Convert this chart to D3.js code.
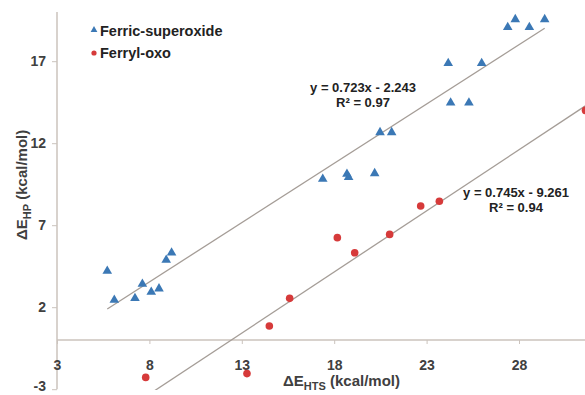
<!DOCTYPE html>
<html>
<head>
<meta charset="utf-8">
<script src="https://cdn.jsdelivr.net/npm/d3@7"></script>
<style>
  body { margin: 0; background: #fff; }
  svg { display: block; font-family: "Liberation Sans", Arial, sans-serif; }
</style>
</head>
<body>
<div id="chart"></div>
<script>
// Ferric-superoxide (x = dE HTS, y = dE HP)
var superX = [5.72, 6.10, 7.22, 7.62, 8.10, 8.52, 8.91, 9.20, 17.38, 18.69, 18.78, 20.19,
              20.48, 21.11, 24.30, 25.29, 24.17, 25.98, 27.39, 27.80, 28.56, 29.39];
var superY = [4.21, 2.44, 2.54, 3.41, 2.93, 3.13, 4.88, 5.32, 9.82, 10.12, 9.92, 10.16,
              12.66, 12.66, 14.47, 14.47, 16.87, 16.87, 19.07, 19.55, 19.07, 19.55];
// Ferryl-oxo
var oxoX = [7.80, 13.28, 14.49, 15.59, 18.17, 19.11, 21.00, 22.68, 23.69, 31.6];
var oxoY = [-2.28, -2.05, 0.85, 2.54, 6.24, 5.32, 6.44, 8.17, 8.46, 14.0];

var fits = [
  { slope: 0.723, icept: -2.243, eq: "y = 0.723x - 2.243", r2: "0.97", lx: 363, ly: 92 },
  { slope: 0.745, icept: -9.261, eq: "y = 0.745x - 9.261", r2: "0.94", lx: 516, ly: 197 }
];
var xTicks = [3, 8, 13, 18, 23, 28];
var yTicks = [-3, 2, 7, 12, 17];

var width = 585, height = 395;
var svg = d3.select("#chart").append("svg")
  .attr("width", width).attr("height", height);

var x = d3.scaleLinear().domain([3, 33]).range([57, 611.4]);
var y = d3.scaleLinear().domain([-3, 20]).range([389.2, 12]);

var axisCol = "#cbc3bd";
var textCol = "#404040";
var fmt = function (d) { return String(d); };

svg.append("defs").append("clipPath").attr("id", "plot")
  .append("rect").attr("x", 57).attr("y", 12).attr("width", 600).attr("height", 378);

// y axis
var yAxis = svg.append("g")
  .attr("transform", "translate(" + x(3) + ",0)")
  .call(d3.axisLeft(y).tickValues(yTicks).tickSize(5).tickPadding(6).tickFormat(fmt));
yAxis.select(".domain").attr("stroke", axisCol).attr("stroke-width", 1.5).attr("d", "M0," + y(-3) + "V" + y(20));
yAxis.selectAll(".tick line").attr("stroke", axisCol);
yAxis.selectAll(".tick text").attr("fill", textCol).style("font-size", "14px").style("font-weight", "bold")
  .attr("dy", function (d) { return d === -3 ? "0.1em" : "0.32em"; });

// x axis at y = 0
var xAxis = svg.append("g")
  .attr("transform", "translate(0," + y(0) + ")")
  .call(d3.axisBottom(x).tickValues(xTicks).tickSize(4).tickPadding(16).tickFormat(fmt));
xAxis.select(".domain").attr("stroke", axisCol).attr("stroke-width", 1.3).attr("d", "M" + x(3) + ",0H" + width);
xAxis.selectAll(".tick line").attr("stroke", axisCol);
xAxis.selectAll(".tick text").attr("fill", textCol).style("font-size", "14px").style("font-weight", "bold");

// trend lines
var plot = svg.append("g").attr("clip-path", "url(#plot)");
var ranges = [d3.extent(superX), d3.extent(oxoX)];
fits.forEach(function (f, i) {
  var x0 = ranges[i][0], x1 = ranges[i][1];
  plot.append("line")
    .attr("x1", x(x0)).attr("y1", y(f.slope * x0 + f.icept))
    .attr("x2", x(x1)).attr("y2", y(f.slope * x1 + f.icept))
    .attr("stroke", "#a59d97").attr("stroke-width", 1.3);
});

// points
var tri = d3.symbol().type(d3.symbolTriangle).size(40);
plot.append("g").selectAll("path")
  .data(superX)
  .enter().append("path")
  .attr("d", tri)
  .attr("transform", function (d, i) { return "translate(" + x(d) + "," + y(superY[i]) + ")"; })
  .attr("fill", "#3b78b5");

plot.append("g").selectAll("circle")
  .data(oxoX)
  .enter().append("circle")
  .attr("cx", function (d) { return x(d); })
  .attr("cy", function (d, i) { return y(oxoY[i]); })
  .attr("r", 3.8)
  .attr("fill", "#d63a3a");

// equation labels
fits.forEach(function (f) {
  svg.append("text").attr("x", f.lx).attr("y", f.ly)
    .attr("text-anchor", "middle").attr("fill", "#222")
    .style("font-size", "13px").style("font-weight", "bold").text(f.eq);
  svg.append("text").attr("x", f.lx).attr("y", f.ly + 15)
    .attr("text-anchor", "middle").attr("fill", "#222")
    .style("font-size", "13px").style("font-weight", "bold").text("R\u00b2 = " + f.r2);
});

// legend
svg.append("path").attr("d", d3.symbol().type(d3.symbolTriangle).size(20))
  .attr("transform", "translate(94,30)").attr("fill", "#3b78b5");
svg.append("text").attr("x", 100).attr("y", 36).attr("fill", "#222")
  .style("font-size", "14.5px").style("font-weight", "bold").text("Ferric-superoxide");
svg.append("circle").attr("cx", 94).attr("cy", 53).attr("r", 2.6).attr("fill", "#d63a3a");
svg.append("text").attr("x", 100).attr("y", 58).attr("fill", "#222")
  .style("font-size", "14.5px").style("font-weight", "bold").text("Ferryl-oxo");

// axis titles
var xt = svg.append("text").attr("x", 283).attr("y", 386).attr("fill", textCol)
  .style("font-size", "15px").style("font-weight", "bold");
xt.append("tspan").text("\u0394E");
xt.append("tspan").attr("dy", 4).style("font-size", "11px").text("HTS");
xt.append("tspan").attr("dy", -4).text(" (kcal/mol)");

var yt = svg.append("text").attr("transform", "translate(27,240) rotate(-90)").attr("fill", textCol)
  .style("font-size", "15px").style("font-weight", "bold");
yt.append("tspan").text("\u0394E");
yt.append("tspan").attr("dy", 4).style("font-size", "11px").text("HP");
yt.append("tspan").attr("dy", -4).text(" (kcal/mol)");
</script>
</body>
</html>
